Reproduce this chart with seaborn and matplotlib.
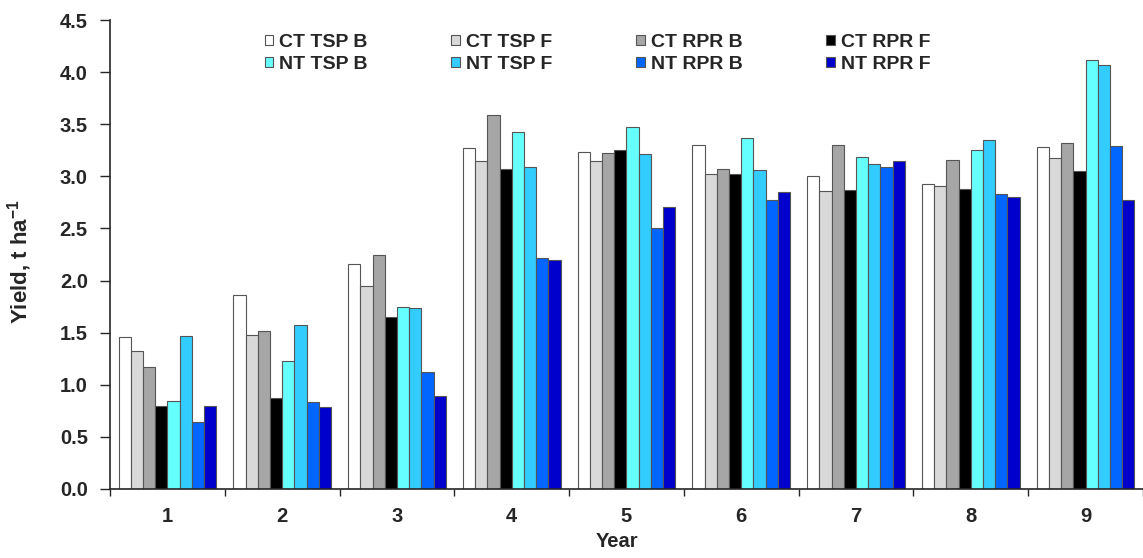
import matplotlib
matplotlib.use("Agg")
import matplotlib.pyplot as plt
import seaborn as sns
import pandas as pd
from matplotlib.patches import Patch
from matplotlib.ticker import FixedLocator

years = ["1", "2", "3", "4", "5", "6", "7", "8", "9"]
treatments = ["CT TSP B", "CT TSP F", "CT RPR B", "CT RPR F",
              "NT TSP B", "NT TSP F", "NT RPR B", "NT RPR F"]
colores = ["#FFFFFF", "#D9D9D9", "#A6A6A6", "#000000",
           "#66FFFF", "#33CCFF", "#0066FF", "#0000CC"]

ct_tsp_b = [1.46, 1.86, 2.16, 3.27, 3.23, 3.30, 3.00, 2.93, 3.28]
ct_tsp_f = [1.32, 1.48, 1.95, 3.15, 3.15, 3.02, 2.86, 2.91, 3.18]
ct_rpr_b = [1.17, 1.52, 2.25, 3.59, 3.22, 3.07, 3.30, 3.16, 3.32]
ct_rpr_f = [0.80, 0.87, 1.65, 3.07, 3.25, 3.02, 2.87, 2.88, 3.05]
nt_tsp_b = [0.84, 1.23, 1.75, 3.43, 3.47, 3.37, 3.19, 3.25, 4.12]
nt_tsp_f = [1.47, 1.57, 1.74, 3.09, 3.21, 3.06, 3.12, 3.35, 4.07]
nt_rpr_b = [0.64, 0.83, 1.12, 2.22, 2.50, 2.77, 3.09, 2.83, 3.29]
nt_rpr_f = [0.80, 0.79, 0.89, 2.20, 2.71, 2.85, 3.15, 2.80, 2.77]

series = [ct_tsp_b, ct_tsp_f, ct_rpr_b, ct_rpr_f,
          nt_tsp_b, nt_tsp_f, nt_rpr_b, nt_rpr_f]

linhas = []
for trat, vals in zip(treatments, series):
    for ano, v in zip(years, vals):
        linhas.append({"Year": ano, "Treatment": trat, "Yield": v})
df = pd.DataFrame(linhas)

sns.set_style("ticks")
plt.rcParams["font.family"] = ["Liberation Sans", "DejaVu Sans"]
plt.rcParams["font.weight"] = "bold"
plt.rcParams["mathtext.fontset"] = "custom"
plt.rcParams["mathtext.rm"] = "Liberation Sans:bold"
plt.rcParams["mathtext.default"] = "rm"

fig = plt.figure(figsize=(11.43, 5.58), dpi=100)
ax = fig.add_axes([110 / 1143, 1 - 489 / 558, 1 - 110 / 1143, (489 - 20) / 558])

paleta = dict(zip(treatments, colores))
sns.barplot(data=df, x="Year", y="Yield", hue="Treatment", order=years,
            hue_order=treatments, palette=paleta, saturation=1,
            width=0.85, gap=0, edgecolor="#555555", linewidth=0.8,
            legend=False, ax=ax)

ax.set_ylim(0, 4.5)
ax.set_yticks([0, 0.5, 1, 1.5, 2, 2.5, 3, 3.5, 4, 4.5])
ax.set_yticklabels([f"{v:.1f}" for v in ax.get_yticks()])
ax.set_xlim(-0.5, 8.5)

ax.xaxis.set_minor_locator(FixedLocator([i - 0.5 for i in range(10)]))
ax.tick_params(axis="x", which="major", length=0, pad=13, labelsize=14.5)
ax.tick_params(axis="x", which="minor", length=5, width=1, direction="out")
ax.tick_params(axis="y", length=7, width=1, pad=9, labelsize=14.5)
for lab in ax.get_xticklabels() + ax.get_yticklabels():
    lab.set_fontweight("bold")

sns.despine(ax=ax)
ax.spines["left"].set_linewidth(1.2)
ax.spines["bottom"].set_linewidth(1.2)

ax.set_xlabel("Year", fontsize=14.5, fontweight="bold")
ax.xaxis.set_label_coords(0.491, -0.092)
ax.set_ylabel(r"Yield, t ha$^{-1}$", fontsize=16, fontweight="bold")
ax.yaxis.set_label_coords(-0.074, 0.484)

# legenda em 2 linhas x 4 colunas (preenchimento por coluna)
handles = [Patch(facecolor=c, edgecolor="#555555", linewidth=0.8) for c in colores]
ordem = [0, 4, 1, 5, 2, 6, 3, 7]
fig.legend([handles[i] for i in ordem], [treatments[i] for i in ordem],
           ncol=4, loc="upper left", bbox_to_anchor=(255 / 1143, 0.957),
           frameon=False, handlelength=0.45, handleheight=0.45,
           handletextpad=0.3, columnspacing=4.3, labelspacing=0.28, borderpad=0,
           prop={"weight": "bold", "size": 14})

plt.savefig("out.png", dpi=100)
